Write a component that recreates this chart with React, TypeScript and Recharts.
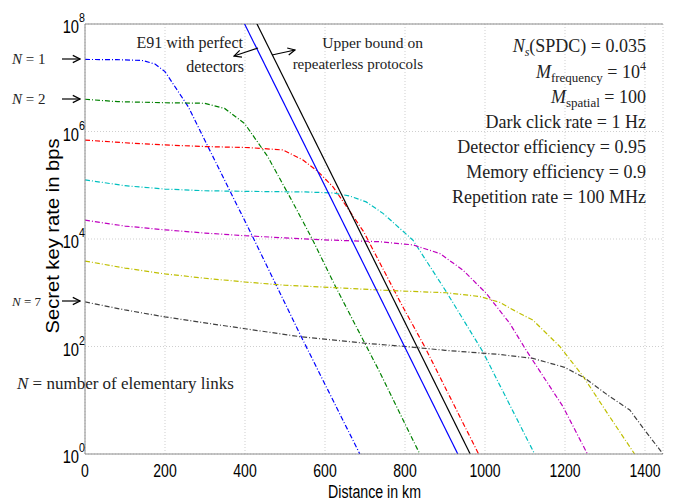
import React from "react";
import {
  CartesianGrid,
  Line,
  LineChart,
  ReferenceLine,
  XAxis,
  YAxis,
} from "recharts";

// distance (km) and secret key rate (bps), one pair of arrays per curve
const n1Km = [0, 80, 145, 175, 200, 258, 324, 422, 541, 687];
const n1Rate = [2.19e7, 2.17e7, 2.09e7, 1.8e7, 1.3e7, 2.9e6, 2.95e5, 1.0e4, 150, 1];

const n2Km = [0, 82, 200, 299, 349, 399, 457, 516, 568, 628, 735, 837];
const n2Rate = [3.98e6, 3.59e6, 3.43e6, 3.35e6, 2.69e6, 1.41e6, 3.39e5, 5.37e4, 1.0e4, 1230, 35.5, 1];

const n3Km = [0, 100, 200, 300, 411, 495, 545, 583, 620, 657, 697, 790, 849, 984];
const n3Rate = [6.92e5, 6.17e5, 5.62e5, 5.25e5, 5.01e5, 4.53e5, 2.95e5, 1.78e5, 9.33e4, 3.72e4, 1.35e4, 631, 100, 1];

const n4Km = [0, 100, 200, 300, 400, 550, 620, 662, 703, 745, 791, 820, 903, 995, 1124];
const n4Rate = [1.26e5, 9.8e4, 8.5e4, 7.9e4, 7.7e4, 7.5e4, 7.2e4, 6.3e4, 4.9e4, 3.0e4, 1.48e4, 9.5e3, 1.05e3, 79, 1];

const n5Km = [0, 100, 200, 300, 400, 500, 612, 737, 820, 887, 945, 1003, 1062, 1103, 1195, 1256];
const n5Rate = [2.24e4, 1.74e4, 1.48e4, 1.29e4, 1.15e4, 1.05e4, 9550, 8900, 7760, 5370, 2630, 977, 269, 85, 7.6, 1];

const n6Km = [0, 100, 200, 300, 400, 500, 612, 737, 903, 987, 1037, 1078, 1120, 1187, 1245, 1312, 1374];
const n6Rate = [3890, 2880, 2240, 1860, 1585, 1380, 1260, 1120, 1000, 851, 661, 447, 309, 100, 28, 4.9, 1];

const n7Km = [0, 100, 200, 300, 400, 541, 699, 802, 900, 987, 1037, 1120, 1199, 1249, 1312, 1362, 1399, 1445];
const n7Rate = [676, 479, 355, 275, 214, 151, 115, 100, 85, 76, 71, 60, 41, 26, 11.7, 6.6, 2.8, 1];

const e91Km = [399, 932];
const e91Rate = [1e8, 1];

const boundKm = [430, 963];
const boundRate = [1e8, 1];

const xTicks = [0, 200, 400, 600, 800, 1000, 1200, 1400];
const yTicks = [1, 1e2, 1e4, 1e6, 1e8];

const zip = (km: number[], rate: number[]) => km.map((x, i) => ({ x, y: rate[i] }));

const dashed = [
  { key: "n1", data: zip(n1Km, n1Rate), color: "#0000ff" },
  { key: "n2", data: zip(n2Km, n2Rate), color: "#008000" },
  { key: "n3", data: zip(n3Km, n3Rate), color: "#ff0000" },
  { key: "n4", data: zip(n4Km, n4Rate), color: "#00bfbf" },
  { key: "n5", data: zip(n5Km, n5Rate), color: "#bf00bf" },
  { key: "n6", data: zip(n6Km, n6Rate), color: "#bfbf00" },
  { key: "n7", data: zip(n7Km, n7Rate), color: "#404040" },
];

const SANS = "'Liberation Sans', Arial, sans-serif";
const SERIF = "'Liberation Serif', 'DejaVu Serif', serif";
const AXIS = "#8c8c8c";

// MATLAB export uses a narrow Helvetica, squeeze the glyphs horizontally
const XTick = (props: any) => {
  const { x, payload } = props;
  return (
    <g transform={`translate(${x},477) scale(0.78,1)`}>
      <text x={0} y={0} textAnchor="middle" fontSize={18} fontFamily={SANS} fill="#000">
        {payload.value}
      </text>
    </g>
  );
};

const LogTick = (props: any) => {
  const { y, payload } = props;
  const exp = Math.round(Math.log10(payload.value));
  return (
    <g transform={`translate(85,${y + 9}) scale(0.82,1)`}>
      <text x={0} y={0} textAnchor="end" fontSize={18} fontFamily={SANS} fill="#000">
        10
        <tspan dy={-11} fontSize={13}>
          {exp}
        </tspan>
      </text>
    </g>
  );
};

const Overlay = () => (
  <svg
    width={676}
    height={504}
    style={{ position: "absolute", left: 0, top: 0, pointerEvents: "none" }}
  >
    <defs>
      <marker id="head" markerWidth="8" markerHeight="8" refX="7" refY="4" orient="auto">
        <path d="M1,1 L7,4 L1,7" fill="none" stroke="#000" strokeWidth={1} />
      </marker>
    </defs>

    <g fontFamily={SANS} fill="#000" fontSize={18}>
      <text x={374.5} y={498} textAnchor="middle" textLength={93} lengthAdjust="spacingAndGlyphs">
        Distance in km
      </text>
      <text
        x={0}
        y={0}
        transform="translate(59,236) rotate(-90)"
        textAnchor="middle"
        fontSize={19}
        textLength={195}
        lengthAdjust="spacingAndGlyphs"
      >
        Secret key rate in bps
      </text>
    </g>

    <g fontFamily={SERIF} fill="#222">
      <text x={12} y={64} fontSize={15}>
        <tspan fontStyle="italic">N</tspan> = 1
      </text>
      <text x={12} y={104} fontSize={15}>
        <tspan fontStyle="italic">N</tspan> = 2
      </text>
      <text x={12} y={306} fontSize={13}>
        <tspan fontStyle="italic">N</tspan> = 7
      </text>
      <text x={17} y={389} fontSize={17}>
        <tspan fontStyle="italic">N</tspan> = number of elementary links
      </text>

      <text x={243} y={48} fontSize={16} textAnchor="end">E91 with perfect</text>
      <text x={244} y={72} fontSize={16} textAnchor="end">detectors</text>
      <text x={423} y={48} fontSize={15.5} textAnchor="end">Upper bound on</text>
      <text x={423} y={69} fontSize={15} textAnchor="end">repeaterless protocols</text>

      <g fontSize={18} textAnchor="end">
        <text x={646} y={52}>
          <tspan fontStyle="italic">N</tspan>
          <tspan fontSize={12} fontStyle="italic" dy={4}>s</tspan>
          <tspan dy={-4}>(SPDC) = 0.035</tspan>
        </text>
        <text x={646} y={78}>
          <tspan fontStyle="italic">M</tspan>
          <tspan fontSize={13} dy={4}>frequency</tspan>
          <tspan dy={-4}> = 10</tspan>
          <tspan fontSize={12} dy={-8}>4</tspan>
        </text>
        <text x={646} y={103}>
          <tspan fontStyle="italic">M</tspan>
          <tspan fontSize={13} dy={4}>spatial</tspan>
          <tspan dy={-4}> = 100</tspan>
        </text>
        <text x={646} y={128}>Dark click rate = 1 Hz</text>
        <text x={646} y={153}>Detector efficiency = 0.95</text>
        <text x={646} y={178}>Memory efficiency = 0.9</text>
        <text x={646} y={203}>Repetition rate = 100 MHz</text>
      </g>
    </g>

    <g stroke="#000" strokeWidth={1.2}>
      <line x1={62} y1={59} x2={80} y2={59} markerEnd="url(#head)" />
      <line x1={62} y1={99} x2={80} y2={99} markerEnd="url(#head)" />
      <line x1={62} y1={301} x2={80} y2={301} markerEnd="url(#head)" />
      <line x1={258} y1={48} x2={234} y2={56} markerEnd="url(#head)" />
      <line x1={272} y1={55} x2={295} y2={50} markerEnd="url(#head)" />
    </g>
  </svg>
);

export default function App() {
  return (
    <div style={{ position: "absolute", left: 0, top: 0, width: 676, height: 504, background: "#fff" }}>
      <LineChart width={676} height={504} margin={{ top: 24, right: 13, bottom: 0, left: 5 }}>
        <CartesianGrid stroke="#cfcfcf" strokeDasharray="1 2" />
        <XAxis
          type="number"
          dataKey="x"
          domain={[0, 1445]}
          ticks={xTicks}
          allowDataOverflow
          height={50}
          stroke={AXIS}
          tickLine={false}
          tick={<XTick />}
        />
        <YAxis
          type="number"
          scale="log"
          domain={[1, 1e8]}
          ticks={yTicks}
          allowDataOverflow
          width={80}
          stroke={AXIS}
          tickLine={false}
          tick={<LogTick />}
        />
        <ReferenceLine y={1e8} stroke={AXIS} />
        {dashed.map((s) => (
          <Line
            key={s.key}
            data={s.data}
            dataKey="y"
            type="linear"
            stroke={s.color}
            strokeWidth={1.2}
            strokeDasharray="5 2 1 2"
            dot={false}
            isAnimationActive={false}
          />
        ))}
        <Line
          data={zip(e91Km, e91Rate)}
          dataKey="y"
          type="linear"
          stroke="#0000ff"
          strokeWidth={1.2}
          dot={false}
          isAnimationActive={false}
        />
        <Line
          data={zip(boundKm, boundRate)}
          dataKey="y"
          type="linear"
          stroke="#000"
          strokeWidth={1.2}
          dot={false}
          isAnimationActive={false}
        />
      </LineChart>
      <Overlay />
    </div>
  );
}
